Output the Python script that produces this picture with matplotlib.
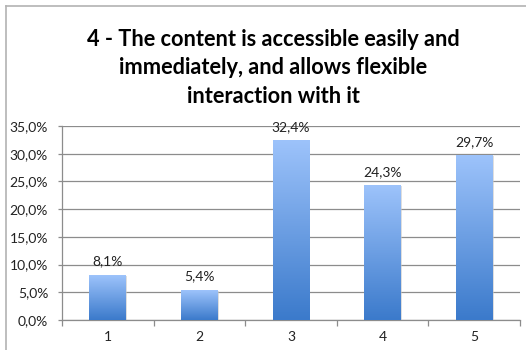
import numpy as np
import matplotlib
matplotlib.use("Agg")
import matplotlib.pyplot as plt
from matplotlib.lines import Line2D
from matplotlib.colors import LinearSegmentedColormap

# Survey results for statement 4
categories = ["1", "2", "3", "4", "5"]
shares = [8.1, 5.4, 32.4, 24.3, 29.7]
y_ticks = [0, 5, 10, 15, 20, 25, 30, 35]
title_text = ("4 - The content is accessible easily and\n"
              "immediately, and allows flexible\n"
              "interaction with it")

def pct(v):
    return f"{v:.1f}%".replace(".", ",")

W, H = 526, 350
fig = plt.figure(figsize=(W / 100, H / 100), dpi=100)
fig.patch.set_facecolor("white")

# chart frame
frame_col = "#b3b3b3"
fig.add_artist(Line2D([6 / W, 6 / W], [0, 1 - 6 / H], transform=fig.transFigure,
                      color=frame_col, lw=1.2))
fig.add_artist(Line2D([6 / W, 1], [1 - 6 / H, 1 - 6 / H], transform=fig.transFigure,
                      color=frame_col, lw=1.2))

fig.text(273 / W, 1 - 68 / H, title_text, ha="center", va="center",
         fontsize=15.7, fontweight="bold", family="Lato", linespacing=1.45,
         color="#000000")

ax = fig.add_axes([62 / W, 30 / H, (520 - 62) / W, (320 - 126) / H])
x = np.arange(len(categories))

grad = LinearSegmentedColormap.from_list("bargrad", ["#3b7acb", "#9dc3fb"])
bar_w = 0.4
bars = ax.bar(x, shares, width=bar_w, color="none", edgecolor="none", zorder=3)
for b, v in zip(bars, shares):
    x0 = b.get_x()
    # faint shadow
    ax.bar(x0 + bar_w / 2 + 0.012, v, width=bar_w, bottom=-0.15,
           color="#c8c8c8", alpha=0.6, zorder=2.5, edgecolor="none")
    img = ax.imshow(np.linspace(0, 1, 256).reshape(-1, 1), cmap=grad,
                    origin="lower", aspect="auto",
                    extent=[x0, x0 + bar_w, 0, v], zorder=3)
    img.set_clip_path(b)
    ax.annotate(pct(v), (x0 + bar_w / 2, v), xytext=(0, 5.5),
                textcoords="offset points", ha="center", va="bottom",
                fontsize=10, family="Lato", color="#222222", zorder=4)

ax.set_aspect("auto")
ax.set_xlim(-0.5, len(categories) - 0.5)
ax.set_ylim(0, 35)

grid_col = "#8c8c8c"
ax.set_yticks(y_ticks)
ax.set_yticklabels([pct(t) for t in y_ticks], fontsize=10, family="Lato",
                   color="#222222")
ax.yaxis.grid(True, color=grid_col, lw=0.9, zorder=0)
ax.set_axisbelow(True)

ax.set_xticks(x)
ax.set_xticklabels(categories, fontsize=10, family="Lato", color="#222222")
ax.tick_params(axis="x", length=0, pad=8)
ax.set_xticks(np.arange(-0.5, len(categories)), minor=True)
ax.tick_params(axis="x", which="minor", length=4, color=grid_col, width=0.9)
ax.tick_params(axis="y", length=3, color=grid_col, width=0.9, pad=7)

for s in ["top", "right"]:
    ax.spines[s].set_visible(False)
ax.spines["left"].set_color(grid_col)
ax.spines["bottom"].set_color(grid_col)
ax.spines["left"].set_linewidth(0.9)
ax.spines["bottom"].set_linewidth(0.9)

fig.savefig("out.png", dpi=100, facecolor="white")
